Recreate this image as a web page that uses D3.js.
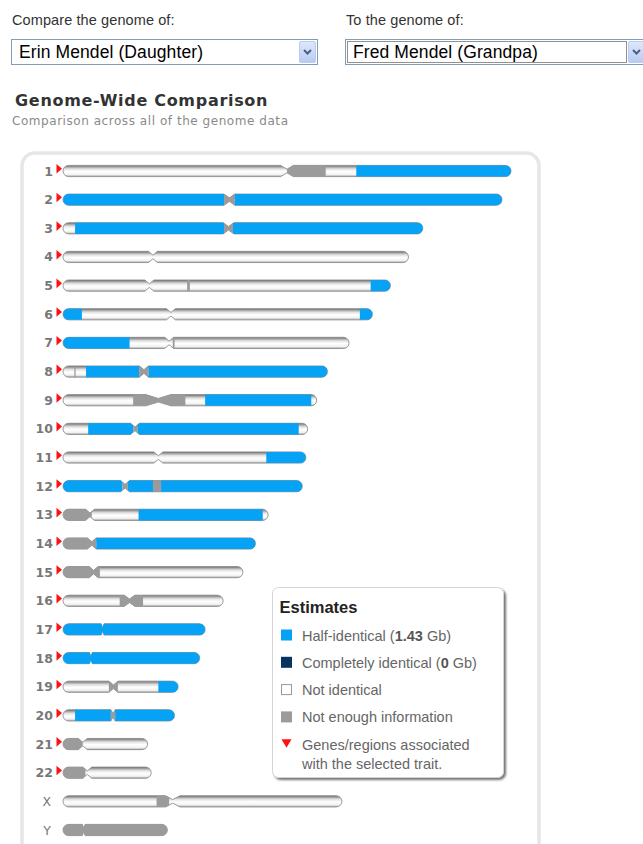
<!DOCTYPE html>
<html>
<head>
<meta charset="utf-8">
<script src="https://cdn.jsdelivr.net/npm/d3@7"></script>
<style>
  html, body { margin: 0; padding: 0; background: #fff; }
  svg { display: block; }
</style>
</head>
<body>
<div id="chart"></div>
<script>
// ---------------- DATA ----------------
const chromosomes = ["1","2","3","4","5","6","7","8","9","10","11","12","13","14","15","16","17","18","19","20","21","22","X","Y"];
const chromLengthMb = [249,244,200,192,182,172,159,147,141,136,135,133,114,107,100,89,79,76,64,62,47,49,155,58];
const centromereMb = [124.5,92.5,92,50,48,60,59,45,53,40,53,34.5,15,16,17,37,22,15.5,28,27.8,11,13.5,61,11.5];
const centromereHalfMb = [3.5,3,3,2.5,2.5,2.5,2.5,2.5,7,2.5,2.5,2.5,2.5,2.5,2.5,3,0.8,0.8,2.5,1.2,2.5,2.5,4,0.8];
// segment: [startMb, endMb, state]  h = half-identical, c = completely identical, n = not identical, u = not enough info
const segments = [
  [[0,124.5,"n"],[124.5,146,"u"],[146,163,"n"],[163,249,"h"]],
  [[0,89.5,"h"],[89.5,95.5,"u"],[95.5,244,"h"]],
  [[0,6.7,"n"],[6.7,89.5,"h"],[89.5,94.5,"u"],[94.5,200,"h"]],
  [[0,192,"n"]],
  [[0,69,"n"],[69,70.5,"u"],[70.5,171,"n"],[171,182,"h"]],
  [[0,10.5,"h"],[10.5,165,"n"],[165,172,"h"]],
  [[0,37,"h"],[37,61,"n"],[61,62,"u"],[62,159,"n"]],
  [[0,6.3,"n"],[6.3,7,"u"],[7,12.8,"n"],[12.8,42.3,"h"],[42.3,47.6,"u"],[47.6,147,"h"]],
  [[0,39,"n"],[39,68,"u"],[68,79,"n"],[79,138,"h"],[138,141,"n"]],
  [[0,14,"n"],[14,39,"h"],[39,41.5,"u"],[41.5,131,"h"],[131,136,"n"]],
  [[0,113,"n"],[113,135,"h"]],
  [[0,33,"h"],[33,36,"u"],[36,50,"h"],[50,54.5,"u"],[54.5,133,"h"]],
  [[0,16,"u"],[16,42,"n"],[42,111,"h"],[111,114,"n"]],
  [[0,18.5,"u"],[18.5,107,"h"]],
  [[0,20.5,"u"],[20.5,100,"n"]],
  [[0,31.5,"n"],[31.5,44.5,"u"],[44.5,89,"n"]],
  [[0,79,"h"]],
  [[0,76,"h"]],
  [[0,25.5,"n"],[25.5,30.5,"u"],[30.5,53,"n"],[53,64,"h"]],
  [[0,6.7,"n"],[6.7,26.6,"h"],[26.6,29,"u"],[29,62,"h"]],
  [[0,11,"u"],[11,47,"n"]],
  [[0,12.5,"u"],[12.5,49,"n"]],
  [[0,52,"n"],[52,59,"u"],[59,155,"n"]],
  [[0,58,"u"]]
];
const traitChromosomes = ["1","2","3","4","5","6","7","8","9","10","11","12","13","14","15","16","17","18","19","20","21","22"];

const compareLabel = "Compare the genome of:";
const compareValue = "Erin Mendel (Daughter)";
const toLabel = "To the genome of:";
const toValue = "Fred Mendel (Grandpa)";
const titleText = "Genome-Wide Comparison";
const subtitleText = "Comparison across all of the genome data";
const legendTitle = "Estimates";
const legendKeys = ["h","c","n","u","trait"];
const legendLabels = [
  [["Half-identical (",false],["1.43",true],[" Gb)",false]],
  [["Completely identical (",false],["0",true],[" Gb)",false]],
  [["Not identical",false]],
  [["Not enough information",false]],
  [["Genes/regions associated",false]]
];
const legendSecondLine = "with the selected trait.";

// ---------------- STYLE ----------------
const W = 643, H = 844;
const COLORS = { h: "#05a2f6", c: "#06345f", u: "#9b9b9b", red: "#ff1111" };

const svg = d3.select("#chart").append("svg").attr("width", W).attr("height", H)
  .style("font-family", "Arial, 'Liberation Sans', sans-serif");
const defs = svg.append("defs");

const tube = defs.append("linearGradient").attr("id","tube").attr("x1",0).attr("y1",0).attr("x2",0).attr("y2",1);
[[0,"#656565"],[0.14,"#a3a3a3"],[0.32,"#e2e2e2"],[0.55,"#ffffff"],[0.82,"#f2f2f2"],[1,"#a4a4a4"]]
  .forEach(([o,c]) => tube.append("stop").attr("offset",o).attr("stop-color",c));

const btnGrad = defs.append("linearGradient").attr("id","btn").attr("x1",0).attr("y1",0).attr("x2",0).attr("y2",1);
[[0,"#dfe8fb"],[1,"#b7cbf3"]].forEach(([o,c]) => btnGrad.append("stop").attr("offset",o).attr("stop-color",c));

const shadow = defs.append("filter").attr("id","shadow").attr("x","-10%").attr("y","-10%").attr("width","130%").attr("height","130%");
shadow.append("feDropShadow").attr("dx",2).attr("dy",2).attr("stdDeviation",1.2)
  .attr("flood-color","#000").attr("flood-opacity",0.55);

// ---------------- HEADER ----------------
svg.append("text").attr("x",12).attr("y",25).attr("font-size",14.5).attr("letter-spacing",0.1).attr("fill","#333").text(compareLabel);
svg.append("text").attr("x",346).attr("y",25).attr("font-size",14.5).attr("letter-spacing",0.1).attr("fill","#333").text(toLabel);

function dropdown(x, w, btnX, value, focused) {
  const g = svg.append("g");
  g.append("rect").attr("x",x+0.5).attr("y",39.5).attr("width",w).attr("height",25)
    .attr("fill","#fff").attr("stroke","#7f9db9");
  if (focused) {
    g.append("rect").attr("x",x+2.5).attr("y",41.5).attr("width",btnX-x-4).attr("height",21)
      .attr("fill","none").attr("stroke","#222").attr("stroke-dasharray","1,1");
  }
  const bx = btnX;
  g.append("rect").attr("x",bx+0.5).attr("y",41.5).attr("width",16).attr("height",21).attr("rx",1.5)
    .attr("fill","url(#btn)").attr("stroke","#b9cbee");
  g.append("path").attr("d",`M${bx+5},${50} L${bx+8.5},${53.5} L${bx+12},${50}`)
    .attr("fill","none").attr("stroke","#4d6185").attr("stroke-width",2);
  g.append("text").attr("x",x+8).attr("y",58).attr("font-size",17.5).attr("letter-spacing",0.1)
    .attr("fill","#000").text(value);
}
dropdown(11, 306, 299, compareValue, false);
dropdown(345, 320, 628, toValue, true);

svg.append("text").attr("x",15).attr("y",106).attr("font-size",16).attr("font-weight","bold")
  .attr("font-family","'DejaVu Sans', Verdana, sans-serif").attr("letter-spacing",0.7)
  .attr("fill","#333").text(titleText);
svg.append("text").attr("x",12).attr("y",125).attr("font-size",12)
  .attr("font-family","'DejaVu Sans', Verdana, sans-serif").attr("letter-spacing",0.55)
  .attr("fill","#8a8a8a").text(subtitleText);

// ---------------- CONTAINER ----------------
svg.append("rect").attr("x",22).attr("y",153).attr("width",517).attr("height",760).attr("rx",13)
  .attr("fill","#fff").attr("stroke","#e6e6e6").attr("stroke-width",3.5);

// ---------------- CHROMOSOMES ----------------
const x = d3.scaleLinear().domain([0, 249]).range([63, 511]);
const y = d3.scalePoint().domain(chromosomes).range([171, 830]);

const BAR_H = 5.6, WAIST = 1.8, R = 5.6;
function chromPath(x0, x1, xc, hw, yc) {
  const a = xc - hw, b = xc + hw;
  return `M${x0+R},${yc-BAR_H} L${a},${yc-BAR_H} L${xc},${yc-WAIST} L${b},${yc-BAR_H} L${x1-R},${yc-BAR_H}` +
    ` A${R},${R} 0 0 1 ${x1-R},${yc+BAR_H} L${b},${yc+BAR_H} L${xc},${yc+WAIST} L${a},${yc+BAR_H} L${x0+R},${yc+BAR_H}` +
    ` A${R},${R} 0 0 1 ${x0+R},${yc-BAR_H} Z`;
}

const rows = chromosomes.map((c, i) => ({
  name: c, i, len: chromLengthMb[i], cen: centromereMb[i], cenHalf: centromereHalfMb[i], segs: segments[i]
}));

const rowG = svg.append("g").selectAll("g").data(rows).join("g");

rowG.each(function(d) {
  const g = d3.select(this);
  const yc = y(d.name);
  const x0 = x(0), x1 = x(d.len), xc = x(d.cen);
  const hw = Math.max(1.2, x(d.cenHalf) - x(0));
  const p = chromPath(x0, x1, xc, hw, yc);
  defs.append("clipPath").attr("id", "clip" + d.i).append("path").attr("d", p);
  g.append("path").attr("d", p).attr("fill", "url(#tube)").attr("stroke", "#8f8f8f").attr("stroke-width", 0.9);
  g.append("g").attr("clip-path", `url(#clip${d.i})`)
    .selectAll("rect").data(d.segs.filter(s => s[2] !== "n")).join("rect")
    .attr("x", s => x(s[0])).attr("width", s => x(s[1]) - x(s[0]))
    .attr("y", yc - BAR_H - 1).attr("height", BAR_H * 2 + 2)
    .attr("fill", s => COLORS[s[2]]);
  const isSex = d.name === "X" || d.name === "Y";
  g.append("text").attr("x", isSex ? 51 : 53).attr("y", yc + 4.5).attr("text-anchor", "end")
    .attr("font-size", 12.5).attr("font-weight", isSex ? "normal" : "bold")
    .attr("font-family", "'DejaVu Sans', Verdana, sans-serif")
    .attr("fill", "#777").text(d.name);
  if (traitChromosomes.includes(d.name)) {
    const tx = x(0) - 6.5;
    g.append("path").attr("d", `M${tx},${yc-7} L${tx+5.5},${yc-2.3} L${tx},${yc+2.6} Z`).attr("fill", COLORS.red);
  }
});

// ---------------- LEGEND ----------------
const lg = svg.append("g").attr("transform", "translate(272.5,587.5)");
lg.append("rect").attr("width", 231).attr("height", 190).attr("rx", 6)
  .attr("fill", "#fff").attr("stroke", "#d4d4d4").attr("filter", "url(#shadow)");
lg.append("text").attr("x", 7).attr("y", 25).attr("font-size", 16.5).attr("font-weight", "bold")
  .attr("fill", "#222").text(legendTitle);

const item = lg.selectAll("g.item").data(legendKeys).join("g").attr("class", "item")
  .attr("transform", (k, i) => `translate(0,${42 + i * 27.3})`);
item.each(function(k, i) {
  const g = d3.select(this);
  if (k === "trait") {
    g.append("path").attr("d", "M9,0.5 L19,0.5 L14,9 Z").attr("fill", COLORS.red);
  } else if (k === "n") {
    g.append("rect").attr("x", 9).attr("y", 0.5).attr("width", 10).attr("height", 10)
      .attr("fill", "#fff").attr("stroke", "#999");
  } else {
    g.append("rect").attr("x", 8.5).attr("y", 0).attr("width", 11).attr("height", 11)
      .attr("fill", COLORS[k]);
  }
  const t = g.append("text").attr("x", 29.5).attr("y", 11).attr("font-size", 14.5).attr("fill", "#666");
  legendLabels[i].forEach(([s, b]) => t.append("tspan").attr("font-weight", b ? "bold" : "normal")
    .attr("fill", b ? "#555" : "#666").text(s));
  if (k === "trait") {
    g.append("text").attr("x", 29.5).attr("y", 30).attr("font-size", 14.5).attr("fill", "#666").text(legendSecondLine);
  }
});
</script>
</body>
</html>
